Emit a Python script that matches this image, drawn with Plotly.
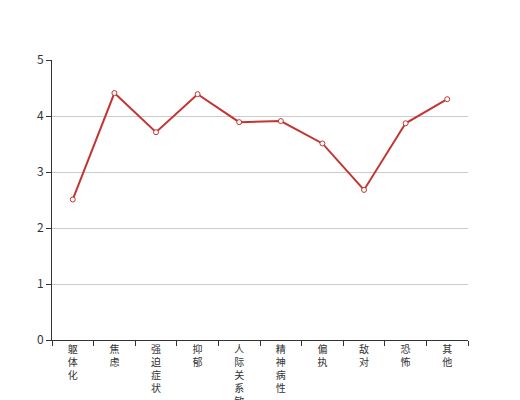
import plotly.graph_objects as go

categories = ["躯体化", "焦虑", "强迫症状", "抑郁", "人际关系敏感", "精神病性", "偏执", "敌对", "恐怖", "其他"]
scores = [2.51, 4.41, 3.71, 4.39, 3.89, 3.91, 3.51, 2.68, 3.87, 4.30]

# vertical labels: one character per line
tick_text = ["<br>".join(c) for c in categories]

fig = go.Figure()
fig.add_trace(go.Scatter(
    x=categories,
    y=scores,
    mode="lines+markers",
    line=dict(color="#c23531", width=2),
    marker=dict(symbol="circle", size=5, color="white",
                line=dict(color="#c23531", width=1)),
    cliponaxis=False,
))

fig.update_xaxes(
    type="category",
    tickmode="array",
    tickvals=categories,
    ticktext=tick_text,
    tickson="boundaries",
    ticks="outside",
    ticklen=5,
    tickcolor="#333",
    showline=True,
    linecolor="#333",
    linewidth=1,
    showgrid=False,
    range=[-0.5, 9.5],
    tickfont=dict(size=10, color="#333", family="Noto Sans CJK SC"),
    automargin=False,
)
fig.update_yaxes(
    range=[0, 5],
    dtick=1,
    ticks="outside",
    ticklen=5,
    tickcolor="#333",
    showline=True,
    linecolor="#333",
    linewidth=1,
    showgrid=True,
    gridcolor="#ccc",
    zeroline=False,
    tickfont=dict(size=12, color="#333", family="Noto Sans CJK SC"),
    automargin=False,
)

fig.update_layout(
    width=520,
    height=400,
    margin=dict(l=44, r=60, t=52, b=68),
    plot_bgcolor="white",
    paper_bgcolor="white",
    showlegend=False,
    font=dict(family="Noto Sans CJK SC"),
)

fig.write_html("out.html")
